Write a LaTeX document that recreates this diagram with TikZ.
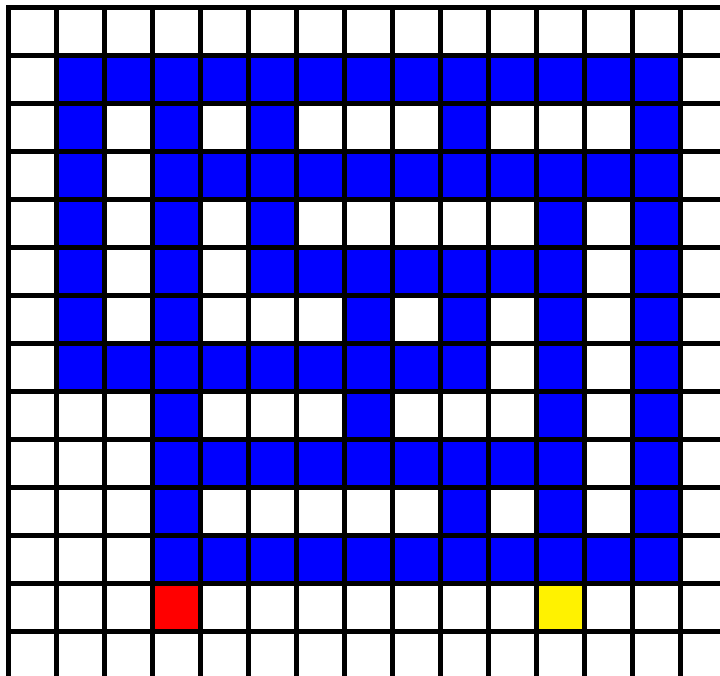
\documentclass[tikz,border=0pt]{standalone}
\begin{document}
\begin{tikzpicture}[
	x=1pt, y=-1pt,
	wall/.style={fill=blue},
	start/.style={fill=red},
	goal/.style={fill=yellow},
	gridline/.style={line width=5pt, black, line cap=rect}
	]
	\useasboundingbox[fill=white] (0,0) rectangle (720,675);
	
	%--- blue cells, row by row ---
	\foreach \r/\cols in {1/{1,...,13}, 2/{1,3,5,9,13}, 3/{1,3,4,...,13},
		4/{1,3,5,11,13}, 5/{1,3,5,6,...,11,13}, 6/{1,3,7,9,11,13},
		7/{1,...,9,11,13}, 8/{3,7,11,13}, 9/{3,...,11,13},
		10/{3,9,11,13}, 11/{3,...,13}} {
		\foreach \c in \cols {
			\fill[wall] (8.5+48*\c, 7+48*\r) rectangle ++(48,48);
		}
	}
	
	%--- start and goal ---
	\fill[start] (8.5+48*3, 7+48*12) rectangle ++(48,48);
	\fill[goal] (8.5+48*11, 7+48*12) rectangle ++(48,48);
	
	%--- grid ---
	\foreach \i in {0,...,14}
	\draw[gridline] (8.5+48*\i, 7) -- (8.5+48*\i, 680);
	\foreach \j in {0,...,13}
	\draw[gridline] (8.5, 7+48*\j) -- (725, 7+48*\j);
	
\end{tikzpicture}
\end{document}
